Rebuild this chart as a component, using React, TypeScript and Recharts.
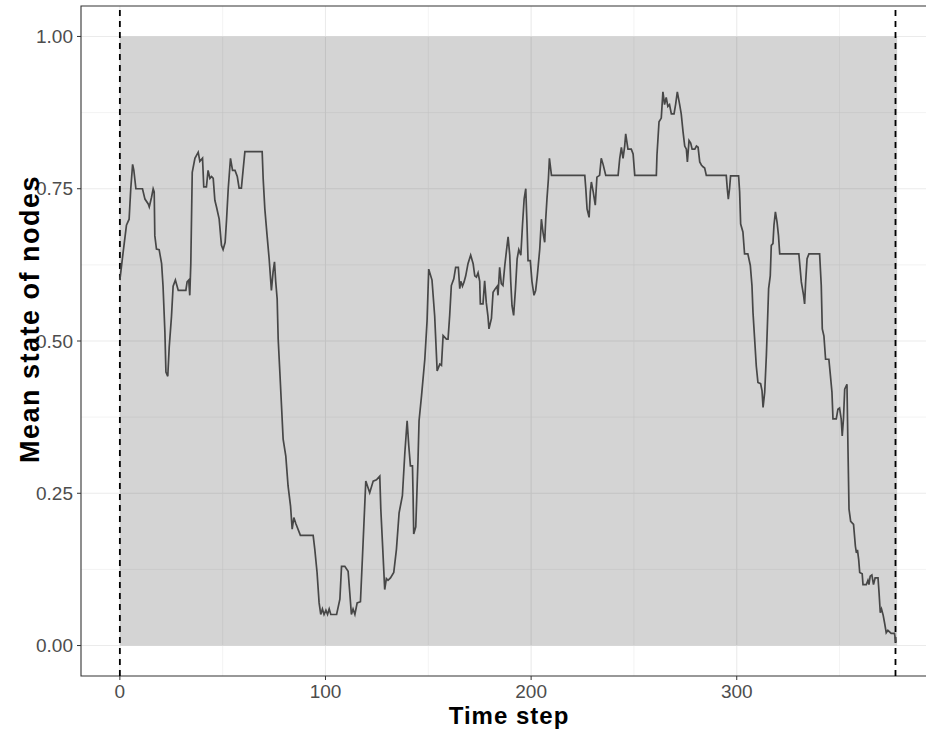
import React from 'react';
import { LineChart, Line, XAxis, YAxis, ReferenceArea, ReferenceLine, CartesianGrid } from 'recharts';

const timeSteps = [
  0, 1.6, 3.2, 4.5, 5.3, 6.2, 6.8, 7.8, 11, 12.2, 13.8, 14.3, 15.4, 16.2, 16.7, 17, 17.8, 19.1, 20.3, 21,
  21.9, 22.4, 23.3, 24, 25.1, 25.9, 27, 28.4, 32.1, 32.7, 33.5, 34, 34.5, 35.2, 36.5, 38.1, 38.9, 40.2, 40.8, 42.1,
  42.9, 43.8, 44.6, 45.4, 46.2, 47, 48.3, 49.4, 50.2, 51.2, 51.9, 52.7, 53.8, 54.8, 56, 57.1, 58, 59.1, 60, 60.8,
  69.2, 69.7, 70.5, 71.6, 72.6, 73.7, 74.5, 75.2, 75.8, 76.5, 77, 77.8, 78.6, 79.4, 80.7, 81.8, 83, 83.8, 84.6, 85.6,
  87.8, 94, 94.8, 95.9, 96.9, 97.7, 98.5, 99.3, 100.2, 101, 101.8, 102.6, 105.4, 107, 107.8, 109.4, 111, 111.8, 112.6, 113.4,
  114.3, 115.4, 117, 118, 119.6, 121.5, 123.2, 124.8, 126.4, 126.9, 127.7, 128.8, 129.6, 130.4, 131.6, 133.2, 134.5, 135.8, 137.4, 138.6,
  139.7, 140.5, 141.3, 142.3, 142.6, 142.9, 143.9, 145, 145.5, 146.7, 148.3, 149.4, 150.2, 151.8, 153.1, 154.3, 155.6, 156.4, 157.2, 158.8,
  159.6, 160.4, 161.2, 162.4, 163.3, 164.6, 165.3, 165.8, 166.6, 167.4, 168.2, 169.3, 170.6, 171.8, 172.6, 173.4, 174.2, 175, 175.3, 176.6,
  177.4, 178.2, 179, 179.5, 180.7, 181.5, 182.6, 183.5, 183.9, 184.7, 185.5, 186.3, 187.2, 188, 188.8, 189.6, 190.1, 190.7, 191.5, 192.4,
  193.2, 194, 195, 195.8, 196.6, 197.4, 198, 198.5, 199.6, 200.4, 201.4, 202.2, 203, 204.2, 205, 205.8, 206.6, 207.1, 207.7, 208.4,
  208.9, 209.9, 226.1, 226.6, 227.2, 228.2, 228.8, 229.3, 230.2, 231.2, 232, 233.3, 234.1, 235, 236.3, 242.3, 243.1, 243.9, 244.7, 245.5,
  246, 246.6, 247.1, 248.7, 249.6, 250.4, 260.9, 261.2, 262.2, 263.3, 264.1, 264.9, 265.7, 266.5, 267.3, 268.2, 269.5, 270.3, 271.1, 272.2,
  273, 273.9, 274.7, 275.5, 276, 276.8, 277.6, 278.3, 279.6, 280.4, 281.2, 282, 282.8, 283.6, 284.4, 285.2, 294.9, 295.4, 295.9, 296.5,
  297, 300.9, 301.4, 301.9, 303, 303.8, 305.4, 306.6, 307.4, 307.9, 308.7, 309.5, 310.3, 311.6, 312.3, 312.8, 313.6, 314.4, 314.9, 315.5,
  316.3, 316.8, 317.6, 318.1, 318.8, 319.6, 320.3, 320.9, 330.2, 331.4, 332.5, 333, 333.5, 334.2, 335.1, 340.3, 341.1, 341.6, 342.4, 343.2,
  344.8, 345.4, 346.3, 346.8, 348.4, 349.2, 350, 350.8, 351.3, 351.9, 352.5, 353.6, 354.1, 354.6, 355.4, 356.8, 357.7, 358.2, 358.7, 359.3,
  359.8, 361, 361.4, 363, 363.8, 364.3, 364.9, 365.7, 366.5, 367.3, 368.7, 369.2, 369.8, 370.4, 371.2, 371.9, 372.7, 373.5, 375.1, 376.7,
  377.4,
];

const meanState = [
  0.60, 0.646, 0.69, 0.70, 0.75, 0.79, 0.78, 0.75, 0.75, 0.733, 0.725, 0.72, 0.736, 0.75, 0.745, 0.673, 0.651, 0.65, 0.627, 0.59,
  0.515, 0.449, 0.442, 0.49, 0.54, 0.59, 0.60, 0.583, 0.583, 0.597, 0.60, 0.575, 0.627, 0.777, 0.80, 0.81, 0.795, 0.80, 0.753, 0.753,
  0.78, 0.767, 0.77, 0.767, 0.731, 0.72, 0.70, 0.657, 0.65, 0.662, 0.70, 0.75, 0.80, 0.78, 0.78, 0.77, 0.751, 0.751, 0.783, 0.811,
  0.811, 0.766, 0.717, 0.673, 0.635, 0.583, 0.613, 0.63, 0.597, 0.569, 0.503, 0.449, 0.394, 0.339, 0.311, 0.262, 0.229, 0.191, 0.21, 0.20,
  0.181, 0.181, 0.158, 0.12, 0.07, 0.051, 0.06, 0.051, 0.058, 0.051, 0.06, 0.051, 0.051, 0.076, 0.13, 0.13, 0.122, 0.087, 0.051, 0.06,
  0.051, 0.07, 0.072, 0.147, 0.27, 0.251, 0.27, 0.272, 0.278, 0.224, 0.169, 0.092, 0.11, 0.107, 0.111, 0.12, 0.158, 0.218, 0.246, 0.317,
  0.369, 0.328, 0.295, 0.295, 0.246, 0.183, 0.195, 0.306, 0.369, 0.41, 0.47, 0.533, 0.618, 0.60, 0.541, 0.451, 0.462, 0.46, 0.509, 0.503,
  0.503, 0.542, 0.591, 0.602, 0.621, 0.621, 0.586, 0.598, 0.59, 0.597, 0.607, 0.627, 0.641, 0.627, 0.607, 0.605, 0.612, 0.598, 0.561, 0.561,
  0.599, 0.563, 0.541, 0.52, 0.537, 0.58, 0.586, 0.59, 0.575, 0.621, 0.594, 0.591, 0.624, 0.648, 0.671, 0.641, 0.597, 0.558, 0.542, 0.586,
  0.635, 0.65, 0.641, 0.69, 0.733, 0.75, 0.69, 0.632, 0.632, 0.598, 0.575, 0.583, 0.607, 0.651, 0.70, 0.678, 0.662, 0.70, 0.733, 0.766,
  0.80, 0.772, 0.772, 0.75, 0.717, 0.703, 0.745, 0.761, 0.745, 0.723, 0.769, 0.772, 0.80, 0.79, 0.772, 0.772, 0.80, 0.818, 0.80, 0.82,
  0.84, 0.826, 0.815, 0.815, 0.807, 0.772, 0.772, 0.805, 0.86, 0.866, 0.909, 0.888, 0.90, 0.885, 0.888, 0.873, 0.873, 0.889, 0.909, 0.889,
  0.873, 0.843, 0.82, 0.815, 0.794, 0.829, 0.825, 0.815, 0.815, 0.82, 0.818, 0.794, 0.789, 0.786, 0.784, 0.772, 0.772, 0.75, 0.733, 0.75,
  0.771, 0.771, 0.745, 0.692, 0.679, 0.643, 0.643, 0.624, 0.591, 0.547, 0.503, 0.459, 0.432, 0.43, 0.418, 0.391, 0.416, 0.476, 0.525, 0.586,
  0.607, 0.657, 0.66, 0.69, 0.712, 0.695, 0.673, 0.643, 0.643, 0.597, 0.575, 0.561, 0.597, 0.635, 0.643, 0.643, 0.591, 0.52, 0.508, 0.47,
  0.47, 0.449, 0.416, 0.372, 0.372, 0.388, 0.39, 0.372, 0.344, 0.372, 0.421, 0.429, 0.322, 0.224, 0.204, 0.199, 0.163, 0.152, 0.157, 0.141,
  0.12, 0.118, 0.10, 0.10, 0.107, 0.10, 0.114, 0.116, 0.10, 0.111, 0.111, 0.087, 0.054, 0.06, 0.05, 0.037, 0.021, 0.025, 0.02, 0.02,
  0.005,
];

const xTicks = [0, 100, 200, 300];
const xMinor = [50, 150, 250, 350];
const yTicks = [0, 0.25, 0.5, 0.75, 1];
const yMinor = [0.125, 0.375, 0.625, 0.875];
const xDomain: [number, number] = [-18.9, 396.9];
const yDomain: [number, number] = [-0.05, 1.05];
const shadeRange = { x1: 0, x2: 378, y1: 0, y2: 1 };
const dashedLines = [0, 377.2];

const data = timeSteps.map((t, i) => ({ t, v: meanState[i] }));

const FONT = '"Liberation Sans", Arial, sans-serif';

export default function App() {
  return (
    <div style={{ position: 'absolute', left: 0, top: 0, width: 926, height: 733, overflow: 'hidden', background: '#fff' }}>
      <LineChart width={940} height={733} data={data} margin={{ top: 6, right: 4, left: 0, bottom: 0 }}>
        <CartesianGrid
          horizontalValues={yMinor}
          verticalValues={xMinor}
          stroke="#EBEBEB"
          strokeWidth={0.6}
        />
        <CartesianGrid
          horizontalValues={yTicks}
          verticalValues={xTicks}
          stroke="#EBEBEB"
          strokeWidth={1.1}
        />
        <XAxis
          type="number"
          dataKey="t"
          domain={xDomain}
          ticks={xTicks}
          allowDataOverflow
          axisLine={false}
          tickLine={{ stroke: '#333333' }}
          tickSize={4}
          tickMargin={5}
          height={57}
          tick={{ fill: '#4D4D4D', fontSize: 19, fontFamily: FONT }}
        />
        <YAxis
          type="number"
          domain={yDomain}
          ticks={yTicks}
          allowDataOverflow
          axisLine={false}
          tickLine={{ stroke: '#333333' }}
          tickSize={4}
          tickMargin={4}
          width={81}
          tickFormatter={(v: number) => v.toFixed(2)}
          tick={{ fill: '#4D4D4D', fontSize: 19, fontFamily: FONT }}
        />
        <ReferenceArea
          x1={shadeRange.x1}
          x2={shadeRange.x2}
          y1={shadeRange.y1}
          y2={shadeRange.y2}
          fill="#000000"
          fillOpacity={0.17}
          stroke="none"
        />
        {dashedLines.map((x) => (
          <ReferenceLine key={'d' + x} x={x} stroke="#000000" strokeWidth={1.8} strokeDasharray="6 5" />
        ))}
        <Line
          type="linear"
          dataKey="v"
          stroke="#474747"
          strokeWidth={1.7}
          dot={false}
          isAnimationActive={false}
        />
        <ReferenceArea
          x1={xDomain[0]}
          x2={xDomain[1]}
          y1={yDomain[0]}
          y2={yDomain[1]}
          fill="none"
          stroke="#333333"
          strokeWidth={1.1}
        />
      </LineChart>
      <svg width={926} height={733} style={{ position: 'absolute', left: 0, top: 0, pointerEvents: 'none' }}>
        <text x={509} y={724} textAnchor="middle" fontFamily={FONT} fontWeight="bold" fontSize={24} letterSpacing={1} fill="#000">
          Time step
        </text>
        <text
          x={0}
          y={0}
          transform="translate(39,319) rotate(-90)"
          textAnchor="middle"
          fontFamily={FONT}
          fontWeight="bold"
          fontSize={27}
          letterSpacing={1.5}
          fill="#000"
        >
          Mean state of nodes
        </text>
      </svg>
    </div>
  );
}
